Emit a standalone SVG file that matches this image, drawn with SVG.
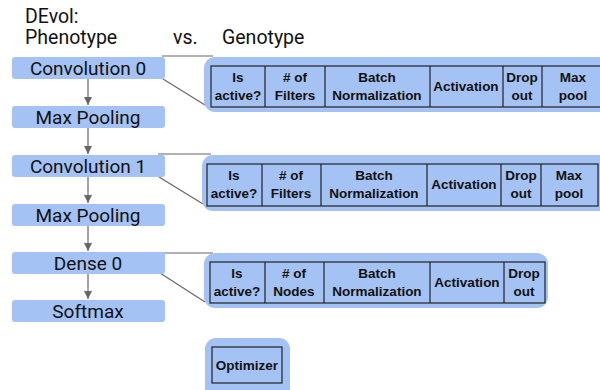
<svg xmlns="http://www.w3.org/2000/svg" width="600" height="390" viewBox="0 0 600 390">
<style>
.node{fill:#a4c2f4;}
.ntxt{font-family:Roboto,"Liberation Sans",sans-serif;font-size:19px;fill:#111;text-anchor:middle;}
.title{font-family:Roboto,"Liberation Sans",sans-serif;font-size:19.5px;fill:#111;}
.panel{fill:#a4c2f4;}
.cell{fill:none;stroke:#222;stroke-width:1.2;}
.ctxt{font-family:"Liberation Sans",Arial,sans-serif;font-size:13.5px;font-weight:bold;fill:#111;text-anchor:middle;}
.conn{stroke:#666;stroke-width:1.2;fill:none;}
</style>
<defs>
<marker id="ah" markerWidth="8" markerHeight="9" refX="8" refY="4.5" orient="auto" markerUnits="userSpaceOnUse">
<path d="M0,0.5 L8,4.5 L0,8.5 Z" fill="#666"/>
</marker>
</defs>
<rect width="600" height="390" fill="#fff"/>
<g id="title">
<text class="title" x="25" y="23">DEvol:</text>
<text class="title" x="25" y="44">Phenotype</text>
<text class="title" x="173" y="44">vs.</text>
<text class="title" x="222" y="44">Genotype</text>
</g>
<g id="connectors">
<line class="conn" x1="88" y1="79" x2="88" y2="105" marker-end="url(#ah)"/>
<line class="conn" x1="88" y1="128" x2="88" y2="154" marker-end="url(#ah)"/>
<line class="conn" x1="88" y1="177" x2="88" y2="203" marker-end="url(#ah)"/>
<line class="conn" x1="88" y1="226" x2="88" y2="251" marker-end="url(#ah)"/>
<line class="conn" x1="88" y1="274" x2="88" y2="299" marker-end="url(#ah)"/>
<line class="conn" x1="162" y1="56" x2="213" y2="56"/>
<line class="conn" x1="163" y1="79" x2="205" y2="105"/>
<line class="conn" x1="158" y1="154" x2="211" y2="154"/>
<line class="conn" x1="159" y1="177" x2="203" y2="204"/>
<line class="conn" x1="162" y1="253" x2="213" y2="253"/>
<line class="conn" x1="160" y1="273" x2="205" y2="302"/>
</g>
<g id="conv0"><rect class="node" x="12" y="57" width="153" height="22" rx="3"/><text class="ntxt" x="88" y="75">Convolution 0</text></g>
<g id="maxpool0"><rect class="node" x="12" y="106" width="153" height="22" rx="3"/><text class="ntxt" x="88" y="124">Max Pooling</text></g>
<g id="conv1"><rect class="node" x="12" y="155" width="153" height="22" rx="3"/><text class="ntxt" x="88" y="173">Convolution 1</text></g>
<g id="maxpool1"><rect class="node" x="12" y="204" width="153" height="22" rx="3"/><text class="ntxt" x="88" y="222">Max Pooling</text></g>
<g id="dense0"><rect class="node" x="12" y="252" width="153" height="22" rx="3"/><text class="ntxt" x="88" y="270">Dense 0</text></g>
<g id="softmax"><rect class="node" x="12" y="300" width="153" height="22" rx="3"/><text class="ntxt" x="88" y="318">Softmax</text></g>
<g id="geno0">
<rect class="panel" x="204" y="57" width="410" height="55" rx="11"/>
<rect class="cell" x="211" y="66" width="400" height="41"/>
<line class="cell" x1="265" y1="66" x2="265" y2="107"/>
<line class="cell" x1="325" y1="66" x2="325" y2="107"/>
<line class="cell" x1="430" y1="66" x2="430" y2="107"/>
<line class="cell" x1="503" y1="66" x2="503" y2="107"/>
<line class="cell" x1="542" y1="66" x2="542" y2="107"/>
<text class="ctxt" x="238" y="82">Is</text><text class="ctxt" x="238" y="100">active?</text>
<text class="ctxt" x="295" y="82">#&#160;of</text><text class="ctxt" x="295" y="100">Filters</text>
<text class="ctxt" x="377" y="82">Batch</text><text class="ctxt" x="377" y="100">Normalization</text>
<text class="ctxt" x="466" y="91">Activation</text>
<text class="ctxt" x="522" y="82">Drop</text><text class="ctxt" x="522" y="100">out</text>
<text class="ctxt" x="573" y="82">Max</text><text class="ctxt" x="573" y="100">pool</text>
</g>
<g id="geno1">
<rect class="panel" x="202" y="155" width="410" height="56" rx="11"/>
<rect class="cell" x="207" y="164" width="391" height="42"/>
<line class="cell" x1="262" y1="164" x2="262" y2="206"/>
<line class="cell" x1="321" y1="164" x2="321" y2="206"/>
<line class="cell" x1="427" y1="164" x2="427" y2="206"/>
<line class="cell" x1="501" y1="164" x2="501" y2="206"/>
<line class="cell" x1="541" y1="164" x2="541" y2="206"/>
<text class="ctxt" x="234" y="180">Is</text><text class="ctxt" x="234" y="198">active?</text>
<text class="ctxt" x="291" y="180">#&#160;of</text><text class="ctxt" x="291" y="198">Filters</text>
<text class="ctxt" x="374" y="180">Batch</text><text class="ctxt" x="374" y="198">Normalization</text>
<text class="ctxt" x="464" y="189">Activation</text>
<text class="ctxt" x="521" y="180">Drop</text><text class="ctxt" x="521" y="198">out</text>
<text class="ctxt" x="569" y="180">Max</text><text class="ctxt" x="569" y="198">pool</text>
</g>
<g id="geno2">
<rect class="panel" x="204" y="253" width="344" height="55" rx="11"/>
<rect class="cell" x="210" y="262" width="335" height="41"/>
<line class="cell" x1="265" y1="262" x2="265" y2="303"/>
<line class="cell" x1="324" y1="262" x2="324" y2="303"/>
<line class="cell" x1="430" y1="262" x2="430" y2="303"/>
<line class="cell" x1="504" y1="262" x2="504" y2="303"/>
<text class="ctxt" x="237" y="278">Is</text><text class="ctxt" x="237" y="296">active?</text>
<text class="ctxt" x="294" y="278">#&#160;of</text><text class="ctxt" x="294" y="296">Nodes</text>
<text class="ctxt" x="377" y="278">Batch</text><text class="ctxt" x="377" y="296">Normalization</text>
<text class="ctxt" x="467" y="287">Activation</text>
<text class="ctxt" x="524" y="278">Drop</text><text class="ctxt" x="524" y="296">out</text>
</g>
<g id="optimizer">
<rect class="panel" x="205" y="338" width="85" height="62" rx="11"/>
<rect class="cell" x="212" y="347" width="70" height="36"/>
<text class="ctxt" x="247" y="370">Optimizer</text>
</g>
</svg>
